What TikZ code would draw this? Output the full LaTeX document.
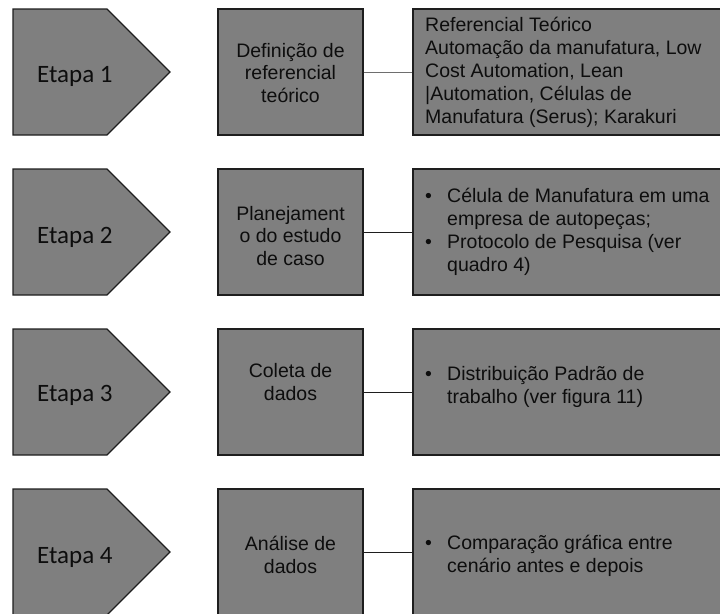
\documentclass[tikz,border=0pt]{standalone}
\usepackage{fontspec}
\setmainfont{Liberation Sans}
\newfontfamily\etapafont{Carlito}
\newcommand\bul{\makebox[22pt][l]{•}}
\newcommand\ind{\hspace*{22pt}}
\definecolor{boxfill}{RGB}{127,127,127}
\definecolor{edge}{RGB}{30,30,30}
\definecolor{txt}{RGB}{13,13,13}
\definecolor{lightconn}{RGB}{110,110,110}
\begin{document}
\begin{tikzpicture}[x=1pt,y=-1pt,
  pent/.style={draw=edge,fill=boxfill,line width=1.2pt,line join=miter},
  boxst/.style={draw=edge,fill=boxfill,line width=1.2pt,inner sep=0pt,rectangle},
  conn/.style={draw=edge,line width=1pt},
  etapa/.style={font=\etapafont\fontsize{25pt}{30pt}\selectfont,text=txt,inner sep=0pt},
  mid/.style={font=\fontsize{19.5pt}{22.5pt}\selectfont,text=txt,align=center,inner sep=0pt},
  rt/.style={font=\fontsize{19.5pt}{23pt}\selectfont,text=txt,align=left,inner sep=0pt,anchor=west}]
\useasboundingbox (0,0) rectangle (720,613);
\clip (0,0) rectangle (720,613);
\foreach \i/\t in {1/9,2/169,3/329,4/489}{
  \draw[pent] (13,\t) -- (107,\t) -- (170,\t+63) -- (107,\t+126) -- (13,\t+126) -- cycle;
  \node[boxst,minimum width=145pt,minimum height=126pt] (m\i) at (290.5,\t+63) {};
  \node[boxst,minimum width=317pt,minimum height=126pt] (r\i) at (571.5,\t+63) {};
}
\draw[conn,draw=lightconn] (m1.east) -- (r1.west);
\draw[conn] (m2.east) -- (r2.west);
\draw[conn] (m3.east) -- (r3.west);
\draw[conn] (m4.east) -- (r4.west);

\node[etapa,anchor=base west] (e1) at (37,82) {Etapa 1};
\node[etapa,anchor=base west] (e2) at (37,243) {Etapa 2};
\node[etapa,anchor=base west] (e3) at (37,401) {Etapa 3};
\node[etapa,anchor=base west] (e4) at (37,563) {Etapa 4};

\node[mid] (mt1) at (290.5,73) {Definição de\\referencial\\teórico};
\node[mid] (mt2) at (290.5,236) {Planejament\\o do estudo\\de caso};
\node[mid] (mt3) at (290.5,382) {Coleta de\\dados};
\node[mid] (mt4) at (290.5,555) {Análise de\\dados};

\node[rt] (rt1) at (425,72) {Referencial Teórico\\Automação da manufatura, Low\\Cost Automation, Lean\\|Automation, Células de\\Manufatura (Serus); Karakuri};
\node[rt] (rt2) at (425,232) {\bul Célula de Manufatura em uma\\\ind empresa de autopeças;\\\bul Protocolo de Pesquisa (ver\\\ind quadro 4)};
\node[rt] (rt3) at (425,387) {\bul Distribuição Padrão de\\\ind trabalho (ver figura 11)};
\node[rt] (rt4) at (425,556) {\bul Comparação gráfica entre\\\ind cenário antes e depois};
\end{tikzpicture}
\end{document}
